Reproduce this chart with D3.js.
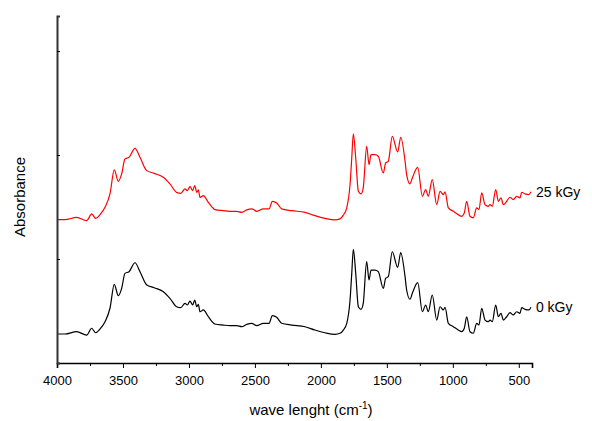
<!DOCTYPE html>
<html>
<head>
<meta charset="utf-8">
<script src="https://cdn.jsdelivr.net/npm/d3@7"></script>
<style>
body { margin: 0; background: #fff; }
svg text { font-family: "Liberation Sans", Arial, sans-serif; }
</style>
</head>
<body>
<svg id="chart" width="592" height="421"></svg>
<script>
// wavenumbers (cm-1)
const waveNumbers = [3995,3939,3851,3775,3737,3707,3674,3636,3598,3566,3535,3510,3485,3454,3409,3371,3320,3263,3194,3144,3093,3062,3030,3012,2992,2972,2956,2941,2929,2916,2891,2853,2803,2740,2689,2638,2600,2562,2524,2486,2436,2393,2368,2335,2297,2221,2120,2045,1969,1893,1855,1830,1804,1779,1766,1754,1736,1716,1696,1679,1653,1635,1620,1590,1565,1527,1509,1489,1459,1418,1395,1362,1350,1325,1307,1266,1231,1206,1186,1156,1122,1097,1072,1059,1034,996,959,933,913,895,870,845,819,802,781,756,731,718,701,675,655,635,617,592,567,542,516,491,478,453,423,408];
// 0 kGy absorbance
const abs0kGy = [0.279,0.279,0.301,0.269,0.334,0.291,0.327,0.397,0.529,0.757,0.647,0.718,0.862,0.878,0.964,0.878,0.750,0.724,0.686,0.622,0.541,0.532,0.574,0.558,0.596,0.558,0.606,0.541,0.564,0.493,0.510,0.445,0.375,0.365,0.359,0.359,0.349,0.372,0.382,0.359,0.382,0.382,0.455,0.439,0.382,0.365,0.349,0.317,0.291,0.276,0.286,0.317,0.382,0.606,0.862,1.093,0.862,0.541,0.516,0.574,0.974,0.798,0.894,0.894,0.878,0.718,0.814,0.830,1.070,0.920,1.061,0.830,0.702,0.613,0.670,0.772,0.493,0.558,0.493,0.654,0.413,0.541,0.510,0.536,0.382,0.349,0.317,0.301,0.334,0.445,0.301,0.286,0.382,0.365,0.526,0.413,0.397,0.413,0.397,0.558,0.445,0.478,0.413,0.445,0.484,0.462,0.493,0.478,0.532,0.516,0.510,0.536];
// 25 kGy absorbance
const abs25kGy = [1.379,1.379,1.401,1.369,1.434,1.391,1.427,1.497,1.629,1.857,1.747,1.818,1.962,1.978,2.064,1.978,1.850,1.824,1.786,1.722,1.641,1.632,1.674,1.658,1.696,1.658,1.706,1.641,1.664,1.593,1.610,1.545,1.475,1.465,1.459,1.459,1.449,1.472,1.482,1.459,1.482,1.482,1.555,1.539,1.482,1.465,1.449,1.417,1.391,1.376,1.386,1.422,1.492,1.716,1.972,2.203,1.972,1.651,1.626,1.684,2.084,1.908,2.004,2.004,1.988,1.828,1.924,1.940,2.180,2.030,2.171,1.940,1.812,1.723,1.780,1.882,1.603,1.668,1.603,1.764,1.523,1.651,1.620,1.646,1.492,1.459,1.427,1.411,1.444,1.555,1.411,1.396,1.492,1.475,1.636,1.523,1.507,1.523,1.507,1.668,1.555,1.588,1.523,1.555,1.594,1.572,1.603,1.588,1.642,1.626,1.620,1.646];
const seriesNames = ["0 kGy", "25 kGy"];
const seriesColors = ["#000000", "#ff0000"];
const xTickValues = [4000,3500,3000,2500,2000,1500,1000,500];
const xMinorTicks = [3750,3250,2750,2250,1750,1250,750];
const yTickValues = [1,2,3];

const svg = d3.select("#chart");
const x = d3.scaleLinear().domain([4000, 400]).range([57, 532]);
const y = d3.scaleLinear().domain([0, 3.337]).range([363, 16]);

const line = d3.line().x(d => x(d[0])).y(d => y(d[1])).curve(d3.curveMonotoneX);
const series = [abs0kGy, abs25kGy];
series.forEach((vals, i) => {
  const pts = waveNumbers.map((w, j) => [w, vals[j]]);
  svg.append("path").datum(pts)
    .attr("d", line)
    .attr("fill", "none")
    .attr("stroke", seriesColors[i])
    .attr("stroke-width", 1.2)
    .attr("stroke-linejoin", "round");
  const last = pts[pts.length - 1];
  svg.append("text")
    .attr("x", x(last[0]) + 5)
    .attr("y", y(last[1]) + 5)
    .attr("font-size", 14)
    .attr("fill", "#000")
    .text(seriesNames[i]);
});

// x axis
const xAxis = d3.axisBottom(x).tickValues(xTickValues).tickSize(5).tickFormat(d3.format("d"));
const gx = svg.append("g").attr("transform", `translate(0,${y(0)})`).call(xAxis);
gx.select(".domain").attr("stroke", "#000").attr("stroke-width", 1.6);
gx.selectAll(".tick line").attr("stroke", "#000").attr("stroke-width", 1);
gx.selectAll(".tick text").attr("font-size", 13).attr("font-family", "Liberation Sans, Arial, sans-serif").attr("dy", "1.05em");
const gxm = svg.append("g").attr("transform", `translate(0,${y(0)})`)
  .call(d3.axisBottom(x).tickValues(xMinorTicks).tickSize(3).tickFormat(""));
gxm.select(".domain").remove();

// y axis
const yAxis = d3.axisLeft(y).tickValues(yTickValues).tickSize(-3).tickFormat("");
const gy = svg.append("g").attr("transform", `translate(${x(4000)},0)`).call(yAxis);
gy.select(".domain").attr("stroke", "#333").attr("stroke-width", 2);
gy.selectAll(".tick line").attr("stroke", "#000");

// axis titles
const xt = svg.append("text").attr("x", 311).attr("y", 415).attr("text-anchor", "middle").attr("font-size", 15);
xt.append("tspan").text("wave lenght (cm");
xt.append("tspan").attr("font-size", 10).attr("dy", -6).text("-1");
xt.append("tspan").attr("dy", 6).text(")");

svg.append("text")
  .attr("transform", "translate(25,197) rotate(-90)")
  .attr("text-anchor", "middle")
  .attr("font-size", 15)
  .text("Absorbance");
</script>
</body>
</html>
